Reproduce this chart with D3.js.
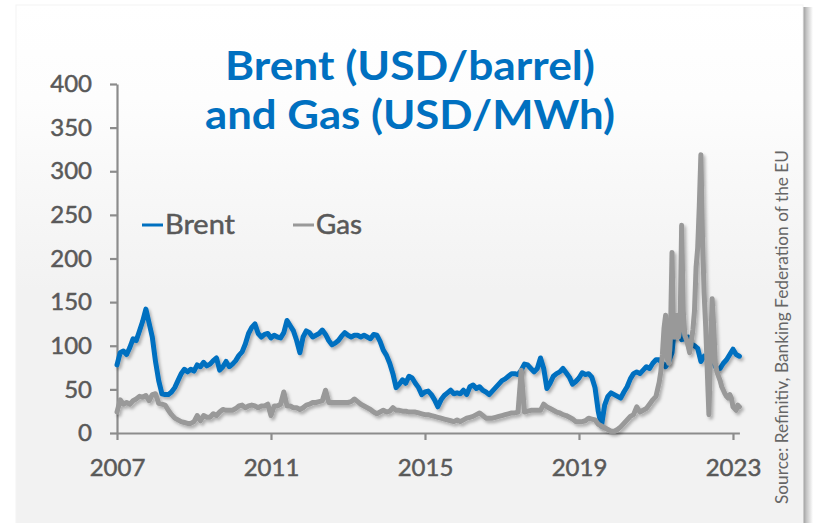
<!DOCTYPE html>
<html>
<head>
<meta charset="utf-8">
<script src="https://cdn.jsdelivr.net/npm/d3@7"></script>
<style>
  html, body { margin: 0; padding: 0; background: #ffffff; }
  svg { display: block; }
</style>
</head>
<body>
<div id="chart"></div>
<script>
// Values, one array per year
const years = [2007, 2008, 2009, 2010, 2011, 2012, 2013, 2014, 2015, 2016, 2017, 2018, 2019, 2020, 2021, 2022, 2023];

// Brent, monthly points (USD/barrel)
const brent = [
  [78, 92, 94, 90, 98, 108, 106, 117, 128, 142, 126, 110],
  [82, 60, 45, 44, 44, 47, 52, 60, 68, 73, 70, 73],
  [71, 78, 76, 81, 77, 79, 83, 86, 72, 76, 82, 76],
  [79, 83, 89, 93, 102, 114, 121, 125, 114, 110, 113, 114],
  [109, 112, 110, 109, 115, 129, 123, 117, 106, 92, 110, 117],
  [115, 110, 112, 114, 118, 113, 106, 101, 103, 106, 111, 115],
  [112, 110, 112, 112, 110, 112, 110, 108, 113, 112, 105, 95],
  [89, 80, 68, 52, 56, 61, 57, 65, 63, 57, 52, 44],
  [47, 48, 44, 38, 30, 38, 43, 46, 49, 45, 46, 45],
  [49, 44, 53, 55, 51, 53, 49, 47, 44, 48, 52, 56],
  [60, 62, 65, 68, 68, 67, 72, 79, 78, 74, 70, 74],
  [86, 74, 51, 57, 65, 68, 70, 74, 69, 64, 56, 59],
  [63, 69, 67, 68, 64, 52, 25, 8, 32, 42, 46, 44],
  [42, 40, 47, 53, 62, 68, 70, 68, 72, 76, 74, 80],
  [84, 84, 80, 76, 82, 92, 130, 118, 107, 108, 110, 102],
  [100, 97, 82, 88, 86, 86, 80, 73, 74, 80, 84, 90],
  [96, 90, 88]
];
const brentSteps = [12, 12, 12, 12, 12, 12, 12, 12, 12, 12, 12, 12, 12, 12, 12, 12, 12];

// Gas, monthly points, half-monthly from 2021 (USD/MWh)
const gas = [
  [24, 38, 33, 35, 33, 37, 39, 42, 41, 43, 37, 44],
  [45, 34, 33, 32, 26, 21, 17, 15, 13, 12, 11, 11],
  [13, 20, 14, 20, 18, 18, 22, 20, 24, 27, 26, 26],
  [26, 28, 31, 32, 29, 31, 32, 31, 29, 31, 31, 33],
  [20, 31, 31, 33, 47, 31, 31, 29, 29, 27, 29, 32],
  [33, 35, 35, 36, 37, 49, 35, 35, 35, 35, 35, 35],
  [35, 36, 39, 36, 33, 31, 29, 27, 24, 22, 24, 26],
  [24, 25, 29, 26, 26, 25, 25, 24, 24, 24, 23, 22],
  [21, 21, 20, 19, 18, 17, 16, 15, 14, 13, 15, 13],
  [15, 17, 18, 19, 21, 23, 20, 17, 17, 17, 18, 19],
  [20, 21, 22, 23, 23, 24, 72, 24, 25, 26, 26, 26],
  [26, 33, 30, 28, 26, 24, 23, 21, 20, 18, 16, 13],
  [13, 13, 14, 17, 16, 15, 10, 8, 6, 4, 2, 2],
  [4, 7, 11, 15, 19, 21, 30, 24, 26, 28, 33, 38],
  [42, 50, 58, 70, 90, 120, 135, 85, 80, 110, 207, 110, 110, 135, 110, 120, 238, 140, 112, 107, 100, 92, 105, 118],
  [140, 190, 212, 260, 319, 225, 160, 122, 70, 21, 90, 154, 122, 80, 70, 65, 60, 53, 49, 45, 42, 40, 44, 40],
  [30, 28, 26, 32, 30]
];
const gasSteps = [12, 12, 12, 12, 12, 12, 12, 12, 12, 12, 12, 12, 12, 12, 24, 24, 24];

const yTicks = [0, 50, 100, 150, 200, 250, 300, 350, 400];
const xTicks = [2007, 2011, 2015, 2019, 2023];

const titleLines = ["Brent (USD/barrel)", "and Gas (USD/MWh)"];
const seriesNames = ["Brent", "Gas"];
const source = "Source: Refinitiv, Banking Federation of the EU";

// flatten the yearly arrays into {t, v} points
function toPoints(values, steps) {
  const pts = [];
  values.forEach((arr, i) => {
    arr.forEach((v, j) => pts.push({ t: years[i] + j / steps[i], v: v }));
  });
  return pts;
}
const brentData = toPoints(brent, brentSteps);
const gasData = toPoints(gas, gasSteps);

const W = 813, H = 523;
const blue = "#0070c0", grey = "#999999", text = "#595959", axisCol = "#8c8c8c";
const font = "Lato, 'Open Sans', sans-serif";

const svg = d3.select("#chart")
  .append("svg")
    .attr("width", W)
    .attr("height", H);

const defs = svg.append("defs");

const bg = defs.append("linearGradient")
  .attr("id", "bg")
  .attr("x1", 0).attr("y1", 0).attr("x2", 0).attr("y2", 1);
bg.append("stop").attr("offset", "0").attr("stop-color", "#ffffff");
bg.append("stop").attr("offset", "0.18").attr("stop-color", "#fdfdfd");
bg.append("stop").attr("offset", "0.55").attr("stop-color", "#f2f2f2");
bg.append("stop").attr("offset", "1").attr("stop-color", "#f2f2f2");

const sh = defs.append("linearGradient")
  .attr("id", "edge")
  .attr("x1", 0).attr("y1", 0).attr("x2", 1).attr("y2", 0);
sh.append("stop").attr("offset", "0").attr("stop-color", "#9a9a9a");
sh.append("stop").attr("offset", "0.35").attr("stop-color", "#c4c4c4");
sh.append("stop").attr("offset", "1").attr("stop-color", "#ffffff");

const drop = defs.append("filter")
  .attr("id", "shadow")
  .attr("x", "-5%").attr("y", "-5%").attr("width", "110%").attr("height", "115%");
drop.append("feDropShadow")
  .attr("dx", 2).attr("dy", 2.5)
  .attr("stdDeviation", 1.4)
  .attr("flood-color", "#000")
  .attr("flood-opacity", 0.28);

// card with a shadow down the right side
svg.append("rect")
  .attr("x", 803).attr("y", 7)
  .attr("width", 10).attr("height", H - 7)
  .attr("fill", "url(#edge)");
svg.append("rect")
  .attr("x", 16).attr("y", 5)
  .attr("width", 787).attr("height", H - 5)
  .attr("fill", "url(#bg)")
  .attr("stroke", "#f3f3f3")
  .attr("stroke-width", 1);

// scales
const x = d3.scaleLinear()
  .domain([2007, 2023 + 2 / 12])
  .range([117, 739.4]);
const y = d3.scaleLinear()
  .domain([0, 400])
  .range([433, 84]);

// Y axis
const yAxis = svg.append("g")
  .attr("transform", "translate(117,0)")
  .call(d3.axisLeft(y).tickValues(yTicks).tickSize(7).tickSizeOuter(0).tickPadding(18));
yAxis.select(".domain").attr("stroke", axisCol).attr("stroke-width", 2.2);
yAxis.selectAll(".tick line").attr("stroke", axisCol).attr("stroke-width", 2.2);
yAxis.selectAll(".tick text")
  .attr("fill", text)
  .attr("stroke", text)
  .attr("stroke-width", 0.5)
  .style("font-family", font)
  .style("font-size", "24px");

// X axis
const xAxis = svg.append("g")
  .attr("transform", `translate(0,${y(0)})`)
  .call(d3.axisBottom(x).tickValues(xTicks).tickFormat(d3.format("d")).tickSize(7).tickSizeOuter(0).tickPadding(19));
xAxis.select(".domain").attr("stroke", axisCol).attr("stroke-width", 2.2);
xAxis.selectAll(".tick line").attr("stroke", axisCol).attr("stroke-width", 2.2);
xAxis.selectAll(".tick text")
  .attr("fill", text)
  .attr("stroke", text)
  .attr("stroke-width", 0.5)
  .style("font-family", font)
  .style("font-size", "24px");

// lines
const line = d3.line()
  .x(d => x(d.t))
  .y(d => y(d.v));

svg.append("path")
  .datum(brentData)
  .attr("d", line)
  .attr("fill", "none")
  .attr("stroke", blue)
  .attr("stroke-width", 5)
  .attr("stroke-linejoin", "round")
  .attr("stroke-linecap", "round")
  .attr("filter", "url(#shadow)");

svg.append("path")
  .datum(gasData)
  .attr("d", line)
  .attr("fill", "none")
  .attr("stroke", grey)
  .attr("stroke-width", 5)
  .attr("stroke-linejoin", "round")
  .attr("stroke-linecap", "round")
  .attr("filter", "url(#shadow)");

// title
svg.selectAll(".title")
  .data(titleLines)
  .enter()
  .append("text")
    .attr("class", "title")
    .attr("x", 410)
    .attr("y", (d, i) => 80 + i * 49)
    .attr("text-anchor", "middle")
    .attr("fill", blue)
    .attr("textLength", (d, i) => i === 0 ? 370 : 410)
    .attr("lengthAdjust", "spacingAndGlyphs")
    .style("font-family", font)
    .style("font-weight", "bold")
    .style("font-size", "40px")
    .text(d => d);

// legend
const legend = svg.selectAll(".legend")
  .data(seriesNames)
  .enter()
  .append("g")
    .attr("class", "legend")
    .attr("transform", (d, i) => `translate(${142 + i * 151},225)`);
legend.append("line")
  .attr("x1", 0).attr("x2", 21)
  .attr("stroke", (d, i) => i === 0 ? blue : grey)
  .attr("stroke-width", 3);
legend.append("text")
  .attr("x", 23)
  .attr("y", 9)
  .attr("fill", text)
  .attr("stroke", text)
  .attr("stroke-width", 0.5)
  .attr("textLength", (d, i) => i === 0 ? 70 : 46)
  .attr("lengthAdjust", "spacingAndGlyphs")
  .style("font-family", font)
  .style("font-size", "27px")
  .text(d => d);

// source note
svg.append("text")
  .attr("transform", "translate(788,504) rotate(-90)")
  .attr("fill", "#666666")
  .attr("textLength", 354)
  .attr("lengthAdjust", "spacingAndGlyphs")
  .style("font-family", font)
  .style("font-size", "18px")
  .text(source);
</script>
</body>
</html>
